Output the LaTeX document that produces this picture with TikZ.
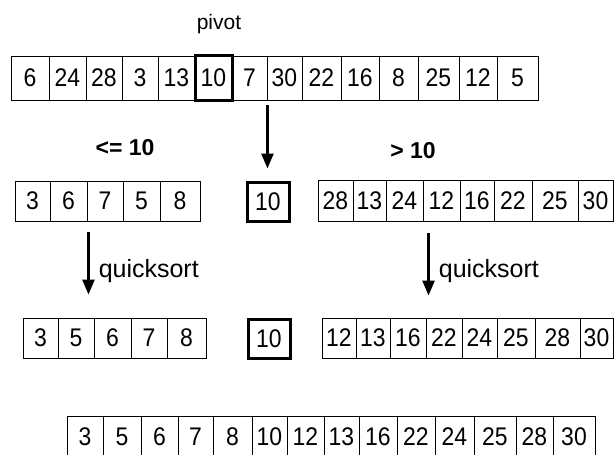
\documentclass[tikz,border=0pt]{standalone}
\usepackage{fontspec}
\setmainfont{Liberation Sans}
\newfontfamily\digitfont[FakeStretch=0.9]{Liberation Sans}
\usetikzlibrary{arrows.meta}

% one row of boxed numbers: name, top y, bottom y, list of left/right/label
\newcommand\cellrow[4]{%
  \foreach \xa/\xb/\lab [count=\i] in {#4} {%
    \node[cell, minimum width={(\xb-\xa)*1pt}, minimum height={(#3-#2)*1pt}]
      (#1-\i) at ({(\xa+\xb)/2},{(#2+#3)/2}) {\lab};
  }%
}

\begin{document}
\begin{tikzpicture}[x=1pt, y=-1pt,
  cell/.style={draw, line width=0.9pt, inner sep=0pt,
    font=\digitfont\fontsize{25.5}{25.5}\selectfont},
  thickbox/.style={draw, line width=3pt, inner sep=0pt,
    font=\digitfont\fontsize{25.5}{25.5}\selectfont},
  caption/.style={inner sep=0pt, font=\fontsize{21}{21}\selectfont},
  sidelabel/.style={inner sep=0pt, font=\fontsize{23}{23}\selectfont\bfseries},
  steplabel/.style={inner sep=0pt, font=\fontsize{25}{25}\selectfont},
  arr/.style={line width=2.6pt, -{Triangle[length=15pt, width=12pt]}}]

\useasboundingbox (0,0) rectangle (614,455);

% unsorted input with the pivot outlined
\node[caption] (pivotlabel) at (219,24) {pivot};
\cellrow{top}{56}{100}{11/49/6, 49/86/24, 86/122/28, 122/158/3, 158/195/13,
  195/232/10, 232/267/7, 267/302/30, 302/341/22, 341/379/16, 379/418/8,
  418/459/25, 459/497/12, 497/538/5}
\node[thickbox, minimum width=37pt, minimum height=45pt] (pv) at (top-6) {};

% partition around the pivot
\node[sidelabel] (lelabel) at (125,148) {<= 10};
\node[sidelabel] (gtlabel) at (413,151) {> 10};
\cellrow{lo}{181}{221}{15/50/3, 50/87/6, 87/123/7, 123/160/5, 160/200/8}
\node[thickbox, minimum width=42pt, minimum height=39pt] (mid1) at (268,201.5) {10};
\cellrow{hi}{180}{221}{318/353/28, 353/386/13, 386/423/24, 423/460/12,
  460/494/16, 494/532/22, 532/578/25, 578/613/30}

% recursively sorted parts
\cellrow{slo}{318}{358}{23/58/3, 58/94/5, 94/131/6, 131/167/7, 167/206/8}
\node[thickbox, minimum width=42pt, minimum height=39pt] (mid2) at (269,338.5) {10};
\cellrow{shi}{318}{358}{322/356/12, 356/390/13, 390/426/16, 426/462/22,
  462/497/24, 497/535/25, 535/580/28, 580/613/30}

% concatenated result
\cellrow{out}{416}{457}{67/103/3, 103/141/5, 141/178/6, 178/213/7, 213/252/8,
  252/287/10, 287/324/12, 324/359/13, 359/397/16, 397/435/22, 435/474/24,
  474/516/25, 516/553/28, 553/595/30}

% arrows
\draw[arr, shorten <=5pt, shorten >=12pt]
  (top-7.south east) -- (top-7.south east |- mid1.north);
\draw[arr, shorten <=11pt, shorten >=23pt]
  ([xshift=1pt]lo-2.south east) -- ([xshift=1pt]lo-2.south east |- slo-1.north)
  node[steplabel, midway, right=9pt, yshift=-2pt] (qsl) {quicksort};
\coordinate (hiarrow) at ([xshift=6pt]hi-4.south west);
\draw[arr, shorten <=12pt, shorten >=22pt]
  (hiarrow) -- (hiarrow |- shi-1.north)
  node[steplabel, midway, right=9pt, yshift=-2pt] (qsr) {quicksort};

\end{tikzpicture}
\end{document}
